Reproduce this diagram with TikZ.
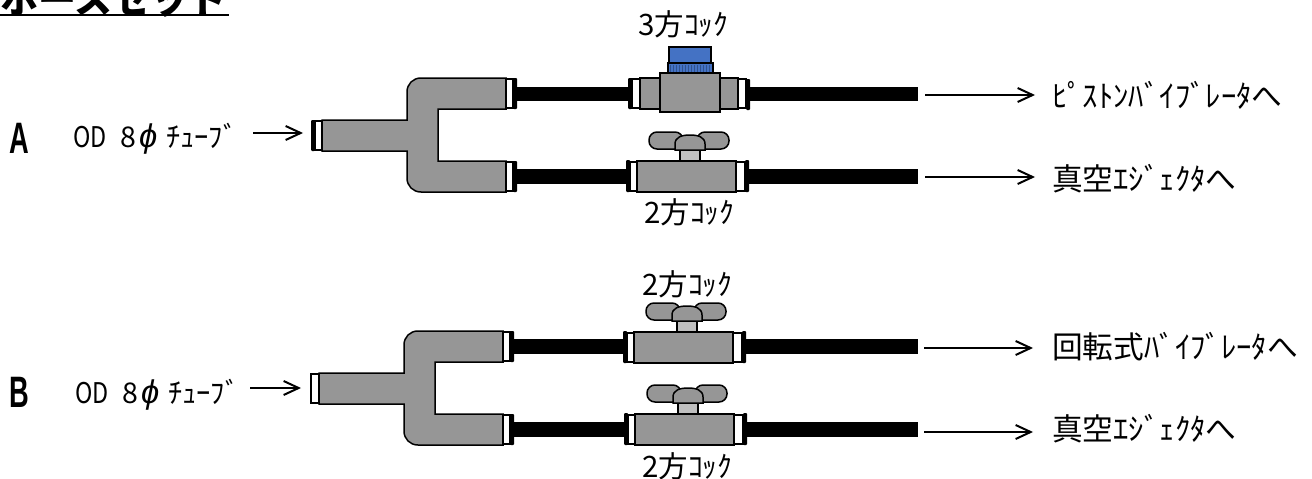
\documentclass[tikz,border=0pt]{standalone}
\usepackage{fontspec}
\usetikzlibrary{arrows.meta}
\setmainfont{Noto Sans CJK JP}
\newfontfamily\latfont{Liberation Sans}
\newfontfamily\phifont{Liberation Sans}
\definecolor{bodygrey}{HTML}{969696}
\definecolor{stemgrey}{HTML}{BFBFBF}
\definecolor{capblue}{HTML}{4472C4}
\definecolor{ridgeblue}{HTML}{2F528F}
\newcommand{\nr}[1]{\scalebox{0.82}[1]{#1}}
\tikzset{
  part/.style={draw=black,line width=1.5pt,fill=bodygrey},
  white part/.style={draw=black,line width=1.5pt,fill=white},
  stem part/.style={draw=black,line width=1.5pt,fill=stemgrey},
  tube/.style={fill=black,draw=none},
  ring/.style={fill=black,draw=none,rounded corners=1pt},
  flow/.style={line width=2pt,-{Straight Barb[length=15pt,width=14pt,line width=2pt]}},
  lab/.style={anchor=base west,inner sep=0pt,font=\fontsize{28.5}{28.5}\selectfont},
  vlab/.style={anchor=base west,inner sep=0pt,font=\fontsize{29.5}{29.5}\selectfont},
  olab/.style={anchor=base west,inner sep=0pt,font=\fontsize{30.7}{30.7}\selectfont},
  bigletter/.style={anchor=base west,inner sep=0pt,font=\fontsize{44}{44}\selectfont\latfont\bfseries},
  blue part/.style={draw=black,line width=1.5pt,fill=capblue}
}
% forked fitting, origin = outer left of the stem at its top
\newcommand{\forkfit}[2]{%
  \begin{scope}[shift={(#1,#2)}]
    \path[part] (0,0) -- (85,0) -- (85,-28)
      .. controls (85,-36) and (91,-42) .. (99,-42) -- (184,-42) -- (184,-11)
      -- (116,-11) -- (116,41) -- (184,41) -- (184,72) -- (99,72)
      .. controls (91,72) and (85,66) .. (85,58) -- (85,31) -- (0,31) -- cycle;
    \path[white part] (184,-41) rectangle (191,-12);
    \path[white part] (184,42) rectangle (191,71);
    \path[ring] (191,-42) rectangle (195,-11);
    \path[ring] (191,41) rectangle (195,72);
  \end{scope}}
% two-way valve, origin = top left of the body
\newcommand{\twoway}[2]{%
  \begin{scope}[shift={(#1,#2)}]
    \path[ring] (-11,-1) rectangle (-7,31);
    \path[white part] (-7,1) rectangle (0,30);
    \path[ring] (108,-1) rectangle (112,31);
    \path[white part] (99,1) rectangle (108,30);
    \path[part] (0,0) rectangle (99,31);
    \path[stem part] (43,-11) rectangle (63,0);
    \path[part,rounded corners=8pt] (12,-29) rectangle (46,-12);
    \path[part,rounded corners=8pt] (60,-29) rectangle (92,-12);
    \path[part] (38,-11) -- (38,-17)
      .. controls (38,-24) and (45,-26) .. (53,-26)
      .. controls (61,-26) and (68,-24) .. (68,-17) -- (68,-11) -- cycle;
  \end{scope}}
\begin{document}
\begin{tikzpicture}[x=1pt,y=-1pt]
  \useasboundingbox (0,0) rectangle (1312,479);
  \clip (0,0) rectangle (1312,479);

  % title
  \node[anchor=base west,inner sep=0pt,font=\fontsize{38}{38}\selectfont\bfseries] (title) at (0,13) {ホースセット};
  \coordinate (ulstart) at (0,15);
  \coordinate (ulend) at (229,15);
  \draw[line width=2.2pt] (ulstart) -- (ulend);

  % tubes
  \fill[tube] (516,87) rectangle (628,101);
  \fill[tube] (750,87) rectangle (918,101);
  \fill[tube] (516,169) rectangle (628,184);
  \fill[tube] (749,169) rectangle (918,184);
  \fill[tube] (513,339) rectangle (624,354);
  \fill[tube] (745,339) rectangle (918,354);
  \fill[tube] (513,422) rectangle (625,437);
  \fill[tube] (747,422) rectangle (918,437);

  % group A
  \forkfit{322}{120}
  \path[ring] (311,120) rectangle (315,151);
  \path[white part] (315,121) rectangle (322,150);

  % three-way valve
  \path[ring] (628,78) rectangle (632,109);
  \path[white part] (632,79) rectangle (640,108);
  \path[part] (640,78) rectangle (738,109);
  \path[white part] (738,79) rectangle (746,108);
  \path[ring] (746,79) rectangle (750,110);
  \path[part] (660,73) rectangle (720,112);
  \path[blue part] (669,47) rectangle (711,63);
  \path[blue part] (668,63) rectangle (713,73);
  \foreach \i in {0,...,13} {\draw[ridgeblue,line width=0.8pt] ({670+\i*3},65) -- ({670+\i*3},72);}

  \twoway{637}{161}

  % group B
  \forkfit{319}{373}
  \path[white part] (311,374) rectangle (319,403);
  \twoway{634}{332}
  \twoway{635}{414}

  % big letters
  \node[bigletter] (la) at (9,153) {\scalebox{0.62}[1]{A}};
  \node[bigletter] (lb) at (9,407) {\scalebox{0.62}[1]{B}};

  % inlet labels
  \node[lab] (ina) at (73,147) {\nr{OD}};
  \node[lab] (ina8) at (120,147) {8};
  \node[lab] (inaphi) at (139,147) {\phifont\itshape\scalebox{1.15}{ϕ}};
  \node[lab] (inat) at (166,147) {ﾁｭｰﾌﾞ};
  \node[lab] (inb) at (75,403) {\nr{OD}};
  \node[lab] (inb8) at (122,403) {8};
  \node[lab] (inbphi) at (141,403) {\phifont\itshape\scalebox{1.15}{ϕ}};
  \node[lab] (inbt) at (168,403) {ﾁｭｰﾌﾞ};

  % valve labels
  \node[vlab] (v1) at (638,35) {3方ｺｯｸ};
  \node[vlab] (v2) at (644,223) {2方ｺｯｸ};
  \node[vlab] (v3) at (642,295) {2方ｺｯｸ};
  \node[vlab] (v4) at (642,477) {2方ｺｯｸ};

  % outlet labels
  \node[olab] (o1) at (1052,107) {ﾋﾟｽﾄﾝﾊﾞｲﾌﾞﾚｰﾀへ};
  \node[olab] (o2) at (1052,190) {真空ｴｼﾞｪｸﾀへ};
  \node[olab] (o3) at (1052,358) {回転式ﾊﾞｲﾌﾞﾚｰﾀへ};
  \node[olab] (o4) at (1052,440) {真空ｴｼﾞｪｸﾀへ};

  % connectors
  \coordinate (s1) at (925,95);  \coordinate (t1) at (1035,95);
  \coordinate (s2) at (925,177); \coordinate (t2) at (1035,177);
  \coordinate (s3) at (924,348); \coordinate (t3) at (1033,348);
  \coordinate (s4) at (924,432); \coordinate (t4) at (1033,432);
  \coordinate (s5) at (253,133); \coordinate (t5) at (303,133);
  \coordinate (s6) at (250,388); \coordinate (t6) at (301,388);
  \draw[flow] (s1) -- (t1);
  \draw[flow] (s2) -- (t2);
  \draw[flow] (s3) -- (t3);
  \draw[flow] (s4) -- (t4);
  \draw[flow] (s5) -- (t5);
  \draw[flow] (s6) -- (t6);
\end{tikzpicture}
\end{document}
